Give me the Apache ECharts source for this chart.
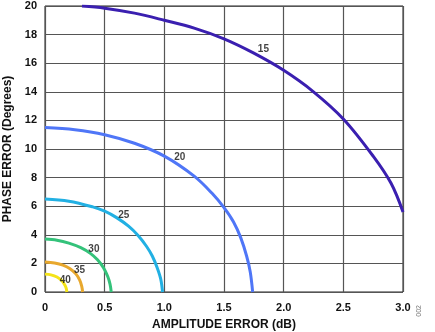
<!DOCTYPE html>
<html><head><meta charset="utf-8">
<script src="https://cdn.jsdelivr.net/npm/echarts@6/dist/echarts.min.js"></script>
<style>html,body{margin:0;padding:0;background:#fff}#c{width:435px;height:332px}</style>
</head><body><div id="c"></div>
<script>
const xTicks = [0, 0.5, 1.0, 1.5, 2.0, 2.5, 3.0];
const yTicks = [0, 2, 4, 6, 8, 10, 12, 14, 16, 18, 20];
const curveNames = ['15', '20', '25', '30', '35', '40'];
const c15x = [0.31, 0.5, 0.75, 1.0, 1.25, 1.5, 1.75, 2.0, 2.25, 2.5, 2.75, 2.9, 3.0];
const c15y = [20, 19.85, 19.5, 19.0, 18.45, 17.7, 16.7, 15.5, 14.0, 12.1, 9.5, 7.6, 5.6];
const c20x = [0, 0.25, 0.5, 0.75, 1.0, 1.25, 1.4, 1.5, 1.58, 1.64, 1.69, 1.72, 1.74];
const c20y = [11.5, 11.35, 11.0, 10.4, 9.5, 8.1, 6.9, 5.9, 4.9, 3.8, 2.5, 1.4, 0];
const c25x = [0, 0.2, 0.4, 0.5, 0.6, 0.7, 0.78, 0.85, 0.9, 0.94, 0.97, 0.985];
const c25y = [6.5, 6.35, 5.95, 5.65, 5.2, 4.6, 3.95, 3.2, 2.5, 1.7, 0.9, 0];
const c30x = [0, 0.1, 0.2, 0.3, 0.38, 0.44, 0.49, 0.525, 0.545, 0.555];
const c30y = [3.7, 3.62, 3.42, 3.1, 2.7, 2.25, 1.7, 1.1, 0.55, 0];
const c35x = [0, 0.08, 0.15, 0.21, 0.26, 0.29, 0.308, 0.315];
const c35y = [2.1, 2.03, 1.88, 1.62, 1.25, 0.85, 0.4, 0];
const c40x = [0, 0.05, 0.1, 0.14, 0.165, 0.178, 0.183];
const c40y = [1.25, 1.2, 1.05, 0.8, 0.5, 0.25, 0];
const labelX = [1.83, 1.13, 0.66, 0.41, 0.29, 0.17];
const labelY = [17.0, 9.4, 5.4, 3.0, 1.5, 0.8];
const colors = ['#3a1fb0', '#4f76f7', '#22b0e3', '#34c27a', '#e8a82e', '#f4e318'];

const curvesX = [c15x, c20x, c25x, c30x, c35x, c40x];
const curvesY = [c15y, c20y, c25y, c30y, c35y, c40y];
const font = 'Liberation Sans, Arial, sans-serif';

const series = curvesX.map((xs, i) => ({
  type: 'line', name: curveNames[i], smooth: 0.35, showSymbol: false,
  data: xs.map((x, j) => [x, curvesY[i][j]]),
  lineStyle: {color: colors[i], width: 3}, itemStyle: {color: colors[i]},
  z: 3, silent: true
}));
series.push({
  type: 'scatter', symbolSize: 0, silent: true, z: 5,
  data: labelX.map((x, i) => ({value: [x, labelY[i]], name: curveNames[i]})),
  label: {show: true, position: 'inside', formatter: p => p.name,
    color: '#111', fontWeight: 'bold', fontSize: 10, fontFamily: font}
});

const chart = echarts.init(document.getElementById('c'));
chart.setOption({
  animation: false,
  grid: {left: 45, right: 32, top: 6, bottom: 40, show: true, borderColor: '#222', borderWidth: 1,
    containLabel: false, outerBoundsMode: 'none'},
  xAxis: {type: 'value', min: 0, max: 3, interval: 0.5,
    axisLine: {show: false}, axisTick: {show: false},
    splitLine: {show: true, lineStyle: {color: '#555', width: 1.2}},
    axisLabel: {color: '#111', fontWeight: 'bold', fontSize: 11, fontFamily: font, margin: 10,
      formatter: v => v === 0 ? '0' : v.toFixed(1)},
    name: 'AMPLITUDE ERROR (dB)', nameLocation: 'middle', nameGap: 27,
    nameTextStyle: {color: '#111', fontWeight: 'bold', fontSize: 12, fontFamily: font}},
  yAxis: {type: 'value', min: 0, max: 20, interval: 2,
    axisLine: {show: false}, axisTick: {show: false},
    splitLine: {show: true, lineStyle: {color: '#555', width: 1.2}},
    axisLabel: {color: '#111', fontWeight: 'bold', fontSize: 11, fontFamily: font, margin: 8},
    name: 'PHASE ERROR (Degrees)', nameLocation: 'middle', nameGap: 31,
    nameTextStyle: {color: '#111', fontWeight: 'bold', fontSize: 12, fontFamily: font}},
  graphic: [{type: 'text', left: 416, top: 305, rotation: Math.PI / 2,
    style: {text: '002', fill: '#777', fontSize: 7, fontFamily: font}}],
  series: series
});
</script></body></html>
